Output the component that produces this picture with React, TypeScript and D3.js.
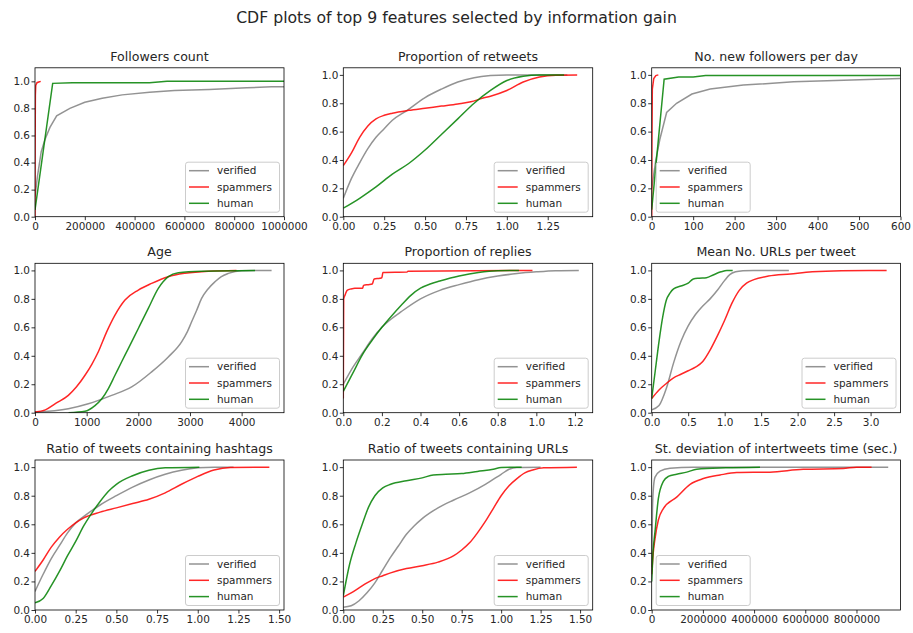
import * as d3 from "d3";
import { useEffect, useRef } from "react";

type Pt = [number, number];

const seriesNames = ["verified", "spammers", "human"];
const seriesColors = ["#808080", "#ff0000", "#008000"];

const figureTitle = "CDF plots of top 9 features selected by information gain";
const panelTitles = [
  "Followers count",
  "Proportion of retweets",
  "No. new followers per day",
  "Age",
  "Proportion of replies",
  "Mean No. URLs per tweet",
  "Ratio of tweets containing hashtags",
  "Ratio of tweets containing URLs",
  "St. deviation of intertweets time (sec.)",
];

const yTicks = [0, 0.2, 0.4, 0.6, 0.8, 1.0];

// 1. followers count
const followersVerified: Pt[] = [
  [0, 0.15], [10000, 0.3], [25000, 0.48], [40000, 0.57], [60000, 0.66], [87000, 0.745],
  [140000, 0.8], [200000, 0.845], [270000, 0.875], [350000, 0.9], [460000, 0.92],
  [560000, 0.932], [700000, 0.94], [850000, 0.952], [950000, 0.96], [1000000, 0.96],
];
const followersSpammers: Pt[] = [
  [0, 0], [500, 0.5], [1500, 0.9], [3000, 0.97], [8000, 0.99], [15000, 0.995], [23000, 1.0],
];
const followersHuman: Pt[] = [
  [0, 0.05], [71000, 0.985], [150000, 0.99], [460000, 0.99], [530000, 1.0], [1000000, 1.0],
];
const followersTicks = [0, 200000, 400000, 600000, 800000, 1000000];

// 2. proportion of retweets
const retweetsVerified: Pt[] = [
  [0, 0.13], [0.05, 0.27], [0.1, 0.38], [0.15, 0.48], [0.2, 0.56], [0.25, 0.62], [0.3, 0.68],
  [0.39, 0.75], [0.5, 0.84], [0.6, 0.9], [0.7, 0.95], [0.8, 0.98], [0.9, 0.995], [1.0, 1.0], [1.37, 1.0],
];
const retweetsSpammers: Pt[] = [
  [0, 0.36], [0.05, 0.45], [0.1, 0.56], [0.15, 0.64], [0.2, 0.69], [0.25, 0.715], [0.3, 0.73],
  [0.4, 0.75], [0.5, 0.765], [0.6, 0.78], [0.7, 0.795], [0.78, 0.81], [0.85, 0.835], [0.9, 0.85],
  [1.0, 0.89], [1.1, 0.95], [1.2, 0.985], [1.3, 0.998], [1.43, 1.0],
];
const retweetsHuman: Pt[] = [
  [0, 0.06], [0.1, 0.13], [0.2, 0.21], [0.3, 0.3], [0.4, 0.375], [0.5, 0.47], [0.6, 0.58],
  [0.7, 0.69], [0.8, 0.8], [0.9, 0.89], [1.0, 0.96], [1.1, 0.99], [1.2, 1.0], [1.35, 1.0],
];
const retweetsTicks = [0, 0.25, 0.5, 0.75, 1.0, 1.25];

// 3. new followers per day
const newFollowersVerified: Pt[] = [
  [0, 0.2], [10, 0.4], [20, 0.55], [36, 0.735], [60, 0.8], [97, 0.865], [141, 0.9],
  [221, 0.928], [342, 0.951], [463, 0.962], [600, 0.974],
];
const newFollowersSpammers: Pt[] = [
  [0, 0], [0.5, 0.5], [1.5, 0.9], [5, 0.975], [10, 0.995], [16, 1.0],
];
const newFollowersHuman: Pt[] = [
  [0, 0.05], [30, 0.97], [65, 0.985], [100, 0.985], [130, 0.995], [600, 0.995],
];
const newFollowersTicks = [0, 100, 200, 300, 400, 500, 600];

// 4. age
const ageVerified: Pt[] = [
  [0, 0.005], [645, 0.028], [1032, 0.063], [1484, 0.122], [1871, 0.181], [2258, 0.287],
  [2580, 0.392], [2838, 0.498], [2950, 0.57], [3032, 0.639], [3130, 0.72], [3225, 0.803],
  [3350, 0.87], [3483, 0.92], [3600, 0.955], [3741, 0.979], [3999, 0.998], [4580, 1.0],
];
const ageSpammers: Pt[] = [
  [0, 0.005], [200, 0.02], [400, 0.065], [645, 0.122], [800, 0.18], [968, 0.263], [1100, 0.34],
  [1226, 0.428], [1387, 0.568], [1548, 0.686], [1742, 0.792], [2000, 0.862], [2258, 0.909],
  [2580, 0.956], [2903, 0.98], [3354, 0.995], [3900, 1.0],
];
const ageHuman: Pt[] = [
  [650, 0], [968, 0.01], [1161, 0.05], [1290, 0.096], [1420, 0.17], [1548, 0.263], [1680, 0.36],
  [1806, 0.45], [2000, 0.592], [2193, 0.733], [2387, 0.874], [2480, 0.92], [2580, 0.956],
  [2774, 0.984], [3225, 0.995], [4260, 1.0],
];
const ageTicks = [0, 1000, 2000, 3000, 4000];

// 5. proportion of replies
const repliesVerified: Pt[] = [
  [0, 0.2], [0.05, 0.32], [0.1, 0.42], [0.15, 0.52], [0.2, 0.6], [0.25, 0.66], [0.3, 0.71],
  [0.4, 0.8], [0.5, 0.86], [0.6, 0.9], [0.7, 0.935], [0.8, 0.96], [0.9, 0.978], [1.0, 0.99],
  [1.1, 0.998], [1.22, 1.0],
];
const repliesSpammers: Pt[] = [
  [0, 0.1], [0.002, 0.8], [0.01, 0.83], [0.02, 0.86], [0.04, 0.87], [0.06, 0.875], [0.1, 0.875],
  [0.105, 0.895], [0.13, 0.9], [0.15, 0.905], [0.16, 0.94], [0.19, 0.945], [0.2, 0.95],
  [0.205, 0.985], [0.33, 0.988], [0.335, 0.995], [0.98, 1.0],
];
const repliesHuman: Pt[] = [
  [0, 0.15], [0.05, 0.28], [0.1, 0.41], [0.15, 0.51], [0.2, 0.6], [0.25, 0.68], [0.3, 0.755],
  [0.35, 0.825], [0.4, 0.875], [0.45, 0.905], [0.5, 0.925], [0.6, 0.96], [0.7, 0.985],
  [0.8, 0.998], [0.91, 1.0],
];
const repliesTicks = [0, 0.2, 0.4, 0.6, 0.8, 1.0, 1.2];

// 6. mean URLs per tweet
const urlsPerTweetVerified: Pt[] = [
  [0, 0.02], [0.1, 0.05], [0.2, 0.17], [0.3, 0.35], [0.4, 0.5], [0.5, 0.61], [0.6, 0.69],
  [0.7, 0.75], [0.8, 0.8], [0.9, 0.86], [1.0, 0.93], [1.07, 0.97], [1.15, 0.99], [1.25, 0.998],
  [1.4, 1.0], [1.88, 1.0],
];
const urlsPerTweetSpammers: Pt[] = [
  [0, 0.1], [0.1, 0.16], [0.2, 0.205], [0.3, 0.245], [0.4, 0.27], [0.5, 0.295], [0.6, 0.32],
  [0.7, 0.36], [0.8, 0.44], [0.9, 0.54], [1.0, 0.65], [1.1, 0.77], [1.2, 0.86], [1.3, 0.91],
  [1.4, 0.935], [1.6, 0.96], [1.9, 0.975], [2.2, 0.99], [2.6, 0.998], [3.22, 1.0],
];
const urlsPerTweetHuman: Pt[] = [
  [0, 0.1], [0.05, 0.3], [0.1, 0.5], [0.15, 0.67], [0.2, 0.79], [0.25, 0.84], [0.3, 0.87],
  [0.4, 0.89], [0.5, 0.91], [0.57, 0.94], [0.65, 0.945], [0.75, 0.948], [0.85, 0.97],
  [0.95, 0.99], [1.03, 1.0], [1.11, 1.0],
];
const urlsPerTweetTicks = [0, 0.5, 1.0, 1.5, 2.0, 2.5, 3.0];

// 7. hashtags ratio
const hashtagsVerified: Pt[] = [
  [0, 0.13], [0.05, 0.25], [0.1, 0.36], [0.15, 0.45], [0.2, 0.54], [0.25, 0.61], [0.3, 0.655],
  [0.4, 0.735], [0.5, 0.8], [0.6, 0.86], [0.7, 0.91], [0.8, 0.95], [0.9, 0.978], [1.0, 0.995],
  [1.1, 1.0], [1.22, 1.0],
];
const hashtagsSpammers: Pt[] = [
  [0, 0.27], [0.05, 0.35], [0.1, 0.44], [0.15, 0.51], [0.2, 0.565], [0.25, 0.61], [0.3, 0.645],
  [0.4, 0.685], [0.5, 0.715], [0.6, 0.745], [0.7, 0.775], [0.8, 0.82], [0.9, 0.88], [1.0, 0.935],
  [1.1, 0.98], [1.2, 0.998], [1.44, 1.0],
];
const hashtagsHuman: Pt[] = [
  [0, 0.05], [0.05, 0.08], [0.1, 0.17], [0.15, 0.27], [0.2, 0.38], [0.25, 0.48], [0.3, 0.59],
  [0.35, 0.68], [0.4, 0.76], [0.45, 0.83], [0.5, 0.88], [0.6, 0.94], [0.7, 0.978], [0.8, 0.995],
  [1.01, 1.0],
];
const hashtagsTicks = [0, 0.25, 0.5, 0.75, 1.0, 1.25, 1.5];

// 8. URLs ratio
const urlsRatioVerified: Pt[] = [
  [0, 0.02], [0.05, 0.03], [0.1, 0.065], [0.15, 0.12], [0.2, 0.19], [0.25, 0.28], [0.3, 0.37],
  [0.35, 0.45], [0.4, 0.53], [0.45, 0.59], [0.5, 0.64], [0.6, 0.715], [0.7, 0.77], [0.8, 0.82],
  [0.9, 0.88], [1.0, 0.95], [1.05, 0.985], [1.1, 0.998], [1.25, 1.0],
];
const urlsRatioSpammers: Pt[] = [
  [0, 0.09], [0.05, 0.12], [0.1, 0.155], [0.15, 0.19], [0.2, 0.22], [0.25, 0.24], [0.3, 0.26],
  [0.4, 0.29], [0.5, 0.31], [0.6, 0.335], [0.7, 0.38], [0.75, 0.42], [0.8, 0.47], [0.85, 0.54],
  [0.9, 0.62], [0.95, 0.71], [1.0, 0.8], [1.05, 0.87], [1.1, 0.92], [1.15, 0.96], [1.2, 0.98],
  [1.27, 0.995], [1.48, 1.0],
];
const urlsRatioHuman: Pt[] = [
  [0, 0.1], [0.04, 0.32], [0.08, 0.47], [0.12, 0.6], [0.16, 0.72], [0.2, 0.8], [0.25, 0.855],
  [0.3, 0.88], [0.4, 0.905], [0.5, 0.925], [0.57, 0.945], [0.65, 0.95], [0.75, 0.955],
  [0.85, 0.97], [0.95, 0.985], [1.0, 0.997], [1.13, 1.0],
];
const urlsRatioTicks = [0, 0.25, 0.5, 0.75, 1.0, 1.25, 1.5];

// 9. std of intertweet time
const intertweetVerified: Pt[] = [
  [0, 0.3], [30000, 0.7], [70000, 0.86], [130000, 0.93], [325000, 0.972], [715000, 0.993],
  [1600000, 1.0], [9240000, 1.0],
];
const intertweetSpammers: Pt[] = [
  [0, 0.25], [50000, 0.38], [130000, 0.5], [260000, 0.63], [455000, 0.71], [976000, 0.79],
  [1500000, 0.88], [2020000, 0.92], [2670000, 0.945], [3320000, 0.962], [4620000, 0.965],
  [5920000, 0.985], [7480000, 0.99], [8000000, 1.0], [8590000, 1.0],
];
const intertweetHuman: Pt[] = [
  [0, 0.2], [50000, 0.4], [130000, 0.55], [260000, 0.78], [455000, 0.9], [650000, 0.935],
  [976000, 0.95], [1370000, 0.965], [1760000, 0.985], [2900000, 0.995], [4230000, 1.0],
];
const intertweetTicks = [0, 2000000, 4000000, 6000000, 8000000];

const xLimits = [1000000, 1.525, 600, 4820, 1.292, 3.41, 1.53, 1.58, 9720000];
const yLimits = [1.1, 1.05, 1.05, 1.05, 1.05, 1.05, 1.05, 1.05, 1.05];
const xTickSets = [
  followersTicks, retweetsTicks, newFollowersTicks, ageTicks, repliesTicks,
  urlsPerTweetTicks, hashtagsTicks, urlsRatioTicks, intertweetTicks,
];
const xTickFormats = ["d", ".2f", "d", "d", ".1f", ".1f", ".2f", ".2f", "d"];
const legendCorners = ["right", "right", "left", "right", "right", "right", "right", "right", "left"];
const panelSeries: Pt[][][] = [
  [followersVerified, followersSpammers, followersHuman],
  [retweetsVerified, retweetsSpammers, retweetsHuman],
  [newFollowersVerified, newFollowersSpammers, newFollowersHuman],
  [ageVerified, ageSpammers, ageHuman],
  [repliesVerified, repliesSpammers, repliesHuman],
  [urlsPerTweetVerified, urlsPerTweetSpammers, urlsPerTweetHuman],
  [hashtagsVerified, hashtagsSpammers, hashtagsHuman],
  [urlsRatioVerified, urlsRatioSpammers, urlsRatioHuman],
  [intertweetVerified, intertweetSpammers, intertweetHuman],
];
const smoothPanels = [false, true, false, true, true, true, true, true, true];

// layout
const W = 913;
const H = 633;
const FONT = "'DejaVu Sans', sans-serif";
const TEXT = "#262626";
const colLeft = [35, 343.3, 651.7];
const colRight = [284, 592.7, 900.5];
const rowTop = [67.8, 263.3, 460];
const rowBottom = [216.7, 412.7, 610];

const XAxis = ({ x, ticks, fmt, y }: { x: d3.ScaleLinear<number, number>; ticks: number[]; fmt: string; y: number }) => {
  const ref = useRef<SVGGElement>(null);
  useEffect(() => {
    const g = d3.select(ref.current as SVGGElement);
    const f = d3.format(fmt);
    g.call(
      d3.axisBottom(x).tickValues(ticks).tickFormat((d) => f(d as number)).tickSize(3.5).tickPadding(2).tickSizeOuter(0)
    );
    g.select(".domain").remove();
    g.attr("font-size", 10.45).attr("font-family", FONT);
    g.selectAll("text").attr("fill", TEXT);
    g.selectAll("line").attr("stroke", "#000").attr("stroke-width", 0.8);
  }, [x, ticks, fmt, y]);
  return <g ref={ref} transform={`translate(0,${y})`} />;
};

const YAxis = ({ y, x }: { y: d3.ScaleLinear<number, number>; x: number }) => {
  const ref = useRef<SVGGElement>(null);
  useEffect(() => {
    const g = d3.select(ref.current as SVGGElement);
    g.call(d3.axisLeft(y).tickValues(yTicks).tickFormat(d3.format(".1f") as any).tickSize(3.5).tickPadding(1.5).tickSizeOuter(0));
    g.select(".domain").remove();
    g.attr("font-size", 10.45).attr("font-family", FONT);
    g.selectAll("text").attr("fill", TEXT);
    g.selectAll("line").attr("stroke", "#000").attr("stroke-width", 0.8);
  }, [y, x]);
  return <g ref={ref} transform={`translate(${x},0)`} />;
};

const Legend = ({ corner, left, right, bottom }: { corner: string; left: number; right: number; bottom: number }) => {
  const w = 94;
  const h = 50;
  const bx = corner === "left" ? left + 4 : right - 5 - w;
  const by = bottom - 5 - h;
  return (
    <g transform={`translate(${bx},${by})`}>
      <rect x={0.5} y={0.5} width={w} height={h} rx={2.5} fill="#fff" fillOpacity={0.8} stroke="#cccccc" strokeWidth={1} />
      {seriesNames.map((name, i) => (
        <g key={name} transform={`translate(0,${9 + i * 16.3})`}>
          <line x1={4} x2={24} y1={0} y2={0} stroke={seriesColors[i]} strokeWidth={1.5} strokeOpacity={0.85} />
          <text x={32} y={0} dy="0.36em" fontSize={10.45} fontFamily={FONT} fill={TEXT}>
            {name}
          </text>
        </g>
      ))}
    </g>
  );
};

const Panel = ({ idx }: { idx: number }) => {
  const col = idx % 3;
  const row = Math.floor(idx / 3);
  const left = colLeft[col];
  const right = colRight[col];
  const top = rowTop[row];
  const bottom = rowBottom[row];
  const x = d3.scaleLinear().domain([0, xLimits[idx]]).range([left, right]);
  const y = d3.scaleLinear().domain([0, yLimits[idx]]).range([bottom, top]);
  const line = d3
    .line<Pt>()
    .x((d) => x(d[0]))
    .y((d) => y(d[1]))
    .curve(smoothPanels[idx] ? d3.curveMonotoneX : d3.curveLinear);
  const clipId = `clip-${idx}`;
  return (
    <g>
      <defs>
        <clipPath id={clipId}>
          <rect x={left} y={top} width={right - left} height={bottom - top} />
        </clipPath>
      </defs>
      <text x={(left + right) / 2} y={top - 7.3} textAnchor="middle" fontSize={12.6} fontFamily={FONT} fill={TEXT}>
        {panelTitles[idx]}
      </text>
      <g clipPath={`url(#${clipId})`}>
        {panelSeries[idx].map((s, i) => (
          <path key={i} d={line(s) ?? ""} fill="none" stroke={seriesColors[i]} strokeWidth={1.5} strokeOpacity={0.85} />
        ))}
      </g>
      <rect x={left} y={top} width={right - left} height={bottom - top} fill="none" stroke="#000" strokeWidth={0.8} />
      <XAxis x={x} ticks={xTickSets[idx]} fmt={xTickFormats[idx]} y={bottom} />
      <YAxis y={y} x={left} />
      <Legend corner={legendCorners[idx]} left={left} right={right} bottom={bottom} />
    </g>
  );
};

export default function App() {
  return (
    <svg
      width={W}
      height={H}
      viewBox={`0 0 ${W} ${H}`}
      style={{ position: "absolute", left: 0, top: 0, background: "#fff", display: "block" }}
    >
      <rect width={W} height={H} fill="#fff" />
      <text x={W / 2} y={22.5} textAnchor="middle" fontSize={15.7} fontFamily={FONT} fill={TEXT}>
        {figureTitle}
      </text>
      {panelTitles.map((_, i) => (
        <Panel key={i} idx={i} />
      ))}
    </svg>
  );
}
